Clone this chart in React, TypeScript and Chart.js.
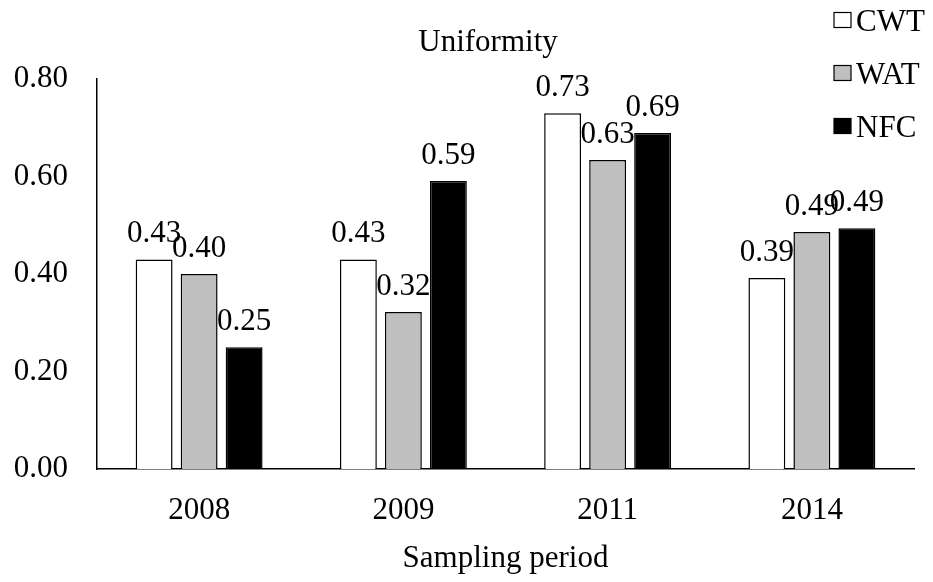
import React, { useEffect, useRef } from "react";
import { Chart, registerables } from "chart.js";

Chart.register(...registerables);

const categories = ["2008", "2009", "2011", "2014"];
const seriesNames = ["CWT", "WAT", "NFC"];
const cwtValues = [0.43, 0.43, 0.73, 0.392];
const watValues = [0.4, 0.322, 0.634, 0.486];
const nfcValues = [0.25, 0.591, 0.689, 0.494];
const yTickValues = [0, 0.2, 0.4, 0.6, 0.8];
const chartTitle = "Uniformity";
const xAxisTitle = "Sampling period";

const FONT_FAMILY = "'Liberation Serif', 'Times New Roman', serif";
const FONT_SIZE = 31;
const fills = ["#FFFFFF", "#BFBFBF", "#000000"];

const overlayPlugin = {
  id: "overlay",
  afterDraw(chart: any) {
    const ctx = chart.ctx;
    const area = chart.chartArea;
    ctx.save();
    ctx.fillStyle = "#000";
    ctx.font = `${FONT_SIZE}px ${FONT_FAMILY}`;
    ctx.textBaseline = "alphabetic";
    ctx.textAlign = "center";
    // data labels
    chart.data.datasets.forEach((ds: any, di: number) => {
      const meta = chart.getDatasetMeta(di);
      meta.data.forEach((el: any, i: number) => {
        const v = ds.data[i];
        ctx.fillText(Number(v).toFixed(2), el.x, el.y - 17);
      });
    });
    // title
    ctx.fillText(chartTitle, 488, 51);
    // x axis title
    ctx.fillText(xAxisTitle, (area.left + area.right) / 2, 567);
    // legend
    ctx.textAlign = "left";
    const rows = [20, 73, 126];
    seriesNames.forEach((name, i) => {
      const cy = rows[i];
      ctx.fillStyle = fills[i];
      ctx.fillRect(834, cy - 7.5, 17, 15);
      ctx.strokeStyle = "#000";
      ctx.lineWidth = 1.2;
      ctx.strokeRect(834, cy - 7.5, 17, 15);
      ctx.fillStyle = "#000";
      ctx.fillText(name, 856, cy + 11);
    });
    ctx.restore();
  },
};

export default function App() {
  const ref = useRef<HTMLCanvasElement | null>(null);
  useEffect(() => {
    if (!ref.current) return;
    const font = { family: FONT_FAMILY, size: FONT_SIZE };
    const valueSets = [cwtValues, watValues, nfcValues];
    const chart = new Chart(ref.current, {
      type: "bar",
      data: {
        labels: categories,
        datasets: seriesNames.map((name, i) => ({
          label: name,
          data: valueSets[i],
          backgroundColor: fills[i],
          borderColor: "#000",
          borderWidth: 1.5,
          barPercentage: 0.82,
          categoryPercentage: 0.661,
        })),
      },
      options: {
        animation: false,
        responsive: false,
        maintainAspectRatio: false,
        layout: { padding: { left: 0, right: 19, top: 79, bottom: 0 } },
        plugins: {
          legend: { display: false },
          title: { display: false },
          tooltip: { enabled: false },
        },
        scales: {
          x: {
            grid: { display: false, drawTicks: false },
            border: { display: true, color: "#000", width: 1.5 },
            ticks: { font, color: "#000", padding: 23 },
            afterFit: (s: any) => {
              s.height = 113;
            },
          },
          y: {
            min: 0,
            max: 0.8,
            afterBuildTicks: (s: any) => {
              s.ticks = yTickValues.map((v) => ({ value: v }));
            },
            grid: { display: false, drawTicks: false },
            border: { display: true, color: "#000", width: 1.5 },
            ticks: {
              font,
              color: "#000",
              padding: 29,
              callback: (v: any) => Number(v).toFixed(2),
            },
            afterFit: (s: any) => {
              s.width = 97;
            },
          },
        },
      } as any,
      plugins: [overlayPlugin],
    });
    return () => chart.destroy();
  }, []);
  return (
    <div style={{ position: "fixed", left: 0, top: 0, width: 933, height: 582, background: "#fff" }}>
      <canvas ref={ref} width={933} height={582} style={{ display: "block", width: 933, height: 582 }} />
    </div>
  );
}
